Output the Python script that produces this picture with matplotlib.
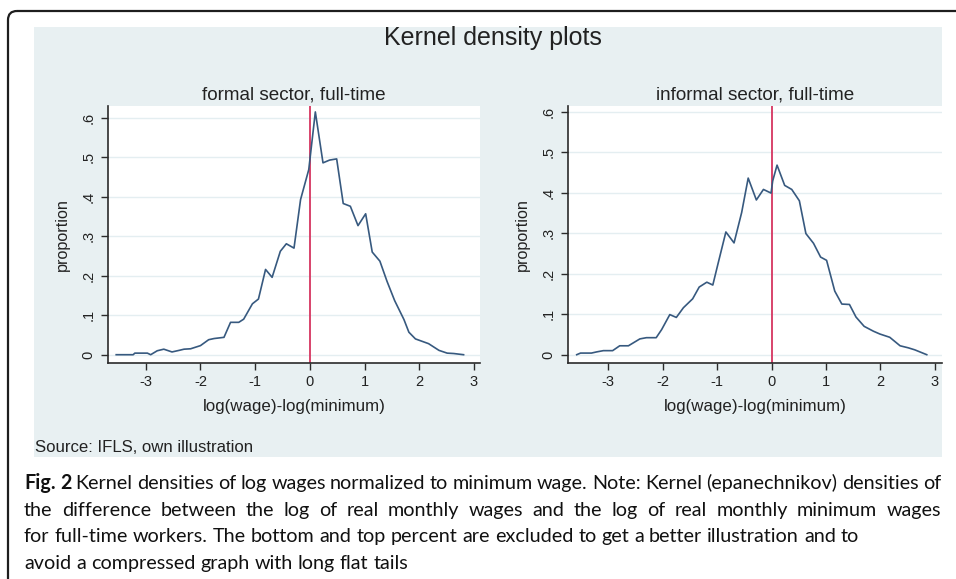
import matplotlib.pyplot as plt
from matplotlib.patches import Rectangle, FancyBboxPatch
from matplotlib.transforms import Affine2D

plt.rcParams['axes.unicode_minus'] = False
plt.rcParams['font.family'] = ['Liberation Sans', 'DejaVu Sans']

W, H = 956, 579

# log(wage)-log(minimum) vs proportion
formal_x = [-3.54, -3.23, -3.20, -2.97, -2.91, -2.79, -2.67, -2.52, -2.39, -2.30,
            -2.18, -2.00, -1.85, -1.75, -1.57, -1.45, -1.30, -1.21, -1.05, -0.94,
            -0.81, -0.69, -0.54, -0.43, -0.29, -0.17, -0.02, 0.10, 0.24, 0.36,
            0.49, 0.61, 0.74, 0.88, 1.02, 1.14, 1.28, 1.41, 1.55, 1.72,
            1.81, 1.93, 2.17, 2.36, 2.51, 2.63, 2.81]
formal_y = [0.000, 0.000, 0.004, 0.004, 0.000, 0.010, 0.014, 0.007, 0.011, 0.014,
            0.015, 0.023, 0.038, 0.041, 0.044, 0.082, 0.082, 0.090, 0.129, 0.141,
            0.216, 0.196, 0.262, 0.281, 0.270, 0.393, 0.469, 0.615, 0.486, 0.493,
            0.496, 0.383, 0.376, 0.327, 0.357, 0.260, 0.237, 0.186, 0.137, 0.089,
            0.057, 0.040, 0.028, 0.011, 0.004, 0.003, 0.000]

informal_x = [-3.58, -3.51, -3.31, -3.21, -3.09, -2.92, -2.79, -2.63, -2.42, -2.30,
              -2.12, -2.02, -1.87, -1.75, -1.62, -1.45, -1.33, -1.19, -1.08, -0.98,
              -0.84, -0.69, -0.55, -0.43, -0.28, -0.15, -0.01, 0.02, 0.10, 0.24,
              0.37, 0.51, 0.63, 0.77, 0.90, 1.01, 1.16, 1.29, 1.43, 1.55,
              1.70, 1.87, 1.99, 2.17, 2.36, 2.51, 2.63, 2.85]
informal_y = [0.000, 0.004, 0.004, 0.007, 0.010, 0.010, 0.022, 0.022, 0.039, 0.042,
              0.042, 0.062, 0.099, 0.092, 0.116, 0.138, 0.167, 0.179, 0.172, 0.227,
              0.303, 0.276, 0.351, 0.436, 0.382, 0.408, 0.399, 0.429, 0.468, 0.418,
              0.408, 0.380, 0.299, 0.275, 0.241, 0.233, 0.157, 0.125, 0.124, 0.093,
              0.070, 0.058, 0.051, 0.043, 0.022, 0.017, 0.012, 0.000]

x_ticks = [-3, -2, -1, 0, 1, 2, 3]
y_ticks = [0, 0.1, 0.2, 0.3, 0.4, 0.5, 0.6]
y_ticklabels = ['0', '.1', '.2', '.3', '.4', '.5', '.6']

caption_bold = 'Fig. 2'
caption_lines = [
    'Kernel densities of log wages normalized to minimum wage. Note: Kernel (epanechnikov) densities of',
    'the difference between the log of real monthly wages and the log of real monthly minimum wages',
    'for full-time workers. The bottom and top percent are excluded to get a better illustration and to',
    'avoid a compressed graph with long flat tails',
]

BLUE = '#37597f'
RED = '#d63560'
INK = '#222222'
CAP_INK = '#111111'

fig = plt.figure(figsize=(W / 100, H / 100), dpi=100)
# pixel coordinates with the origin at the top left
px = Affine2D().scale(1 / W, -1 / H).translate(0, 1) + fig.transFigure

fig.add_artist(FancyBboxPatch((8, 11), 990, 620, boxstyle='round,pad=0,rounding_size=9',
                              transform=px, fill=False, ec='#1e1e1e', lw=1.6, zorder=-2))
fig.add_artist(Rectangle((34, 27), 908, 430, transform=px, fc='#e8f0f2', ec='none', zorder=-1))


def add_axes_px(x0, y0, x1, y1):
    return fig.add_axes([x0 / W, 1 - y1 / H, (x1 - x0) / W, (y1 - y0) / H])


def density_panel(ax, x, y, title, xlim, ylim):
    ax.set_facecolor('white')
    ax.plot(x, y, color=BLUE, lw=1.2, zorder=3)
    ax.axvline(0, color=RED, lw=1.3, zorder=2)
    ax.set_xlim(xlim)
    ax.set_ylim(ylim)
    ax.set_xticks(x_ticks)
    ax.set_xticklabels([str(v) for v in x_ticks])
    ax.set_yticks(y_ticks)
    ax.set_yticklabels(y_ticklabels, rotation=90, va='center')
    ax.yaxis.grid(True, color='#e4eef1', lw=1.0)
    ax.set_axisbelow(True)
    for side in ['top', 'right']:
        ax.spines[side].set_visible(False)
    for side in ['left', 'bottom']:
        ax.spines[side].set_color('#2b2b2b')
        ax.spines[side].set_linewidth(1.2)
    ax.tick_params(direction='out', length=5, width=1, color='#2b2b2b',
                   labelsize=10.5, labelcolor=INK, pad=4)
    ax.set_title(title, fontsize=13.6, color=INK, pad=5)
    ax.set_xlabel('log(wage)-log(minimum)', fontsize=12.2, color=INK, labelpad=7)
    ax.set_ylabel('proportion', fontsize=11.6, color=INK, labelpad=8)


ax1 = add_axes_px(108, 106, 480, 363)
density_panel(ax1, formal_x, formal_y, 'formal sector, full-time', (-3.69, 3.11), (-0.021, 0.630))

ax2 = add_axes_px(568, 106, 942, 363)
density_panel(ax2, informal_x, informal_y, 'informal sector, full-time', (-3.74, 3.13), (-0.0205, 0.614))

fig.text(493, 38, 'Kernel density plots', transform=px, ha='center', va='center',
         fontsize=18, color=INK)
fig.text(35, 447, 'Source: IFLS, own illustration', transform=px, ha='left', va='center',
         fontsize=12.1, color=INK)

# caption, justified like the printed one
renderer = fig.canvas.get_renderer()
cap_size = 14.2
line_base = [489, 516, 542, 569]
cap_left, cap_right = 24, 941

probe = fig.text(0, 0, 'a a', family='Lato', fontsize=cap_size)
space_w = probe.get_window_extent(renderer).width
probe.set_text('aa')
space_w -= probe.get_window_extent(renderer).width
probe.remove()


def caption_line(y, words, weights, justify):
    texts = [fig.text(0, y, w, transform=px, family='Lato', fontweight=wt,
                      fontsize=cap_size, va='baseline', color=CAP_INK)
             for w, wt in zip(words, weights)]
    widths = [t.get_window_extent(renderer).width for t in texts]
    gap = space_w
    if justify:
        gap = max((cap_right - cap_left - sum(widths)) / (len(words) - 1), 0.5 * space_w)
    x = cap_left
    for t, w in zip(texts, widths):
        t.set_x(x)
        x += w + gap


first = caption_bold.split() + caption_lines[0].split()
caption_line(line_base[0], first, ['bold'] * 2 + ['normal'] * (len(first) - 2), True)
for i, line in enumerate(caption_lines[1:], start=1):
    words = line.split()
    caption_line(line_base[i], words, ['normal'] * len(words), i == 1)

fig.savefig('out.png', dpi=100)
